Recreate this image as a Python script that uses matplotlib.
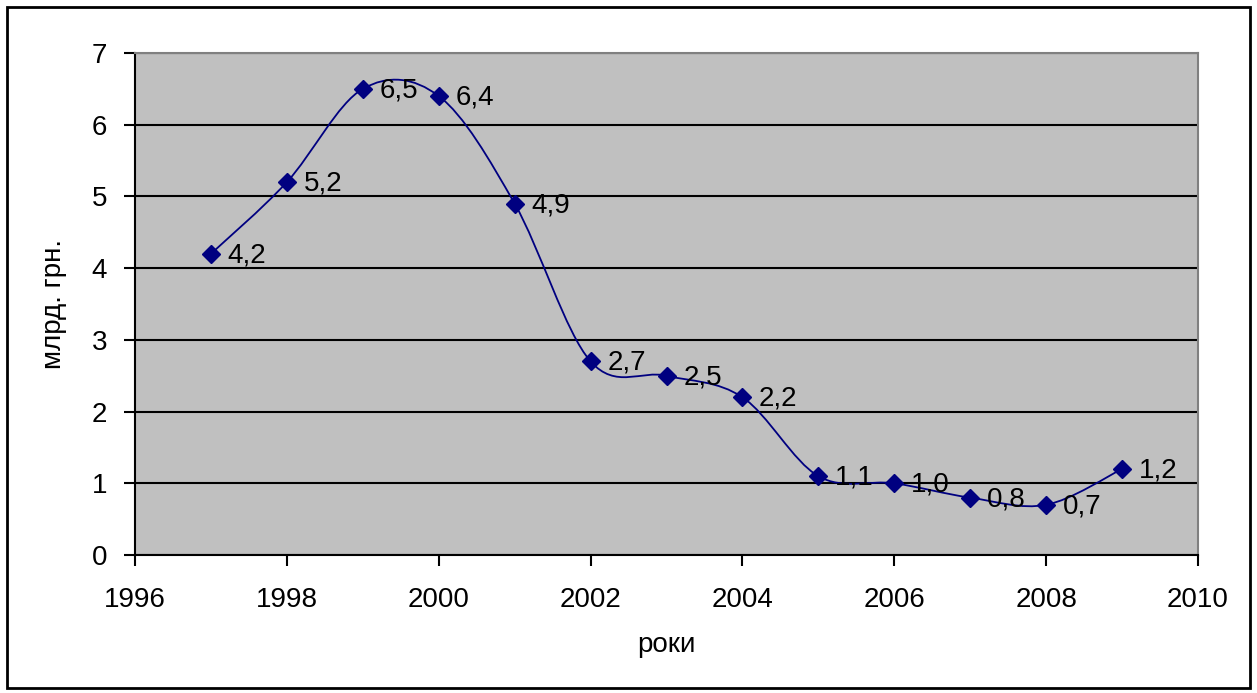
import numpy as np
import matplotlib.pyplot as plt
from matplotlib.path import Path
from matplotlib.patches import PathPatch, Rectangle

plt.rcParams['font.family'] = ['Liberation Sans', 'DejaVu Sans']

years = [1997, 1998, 1999, 2000, 2001, 2002, 2003, 2004, 2005, 2006, 2007, 2008, 2009]
values = [4.2, 5.2, 6.5, 6.4, 4.9, 2.7, 2.5, 2.2, 1.1, 1.0, 0.8, 0.7, 1.2]
labels = ['4,2', '5,2', '6,5', '6,4', '4,9', '2,7', '2,5', '2,2', '1,1', '1,0', '0,8', '0,7', '1,2']

navy = '#000080'
fs = 20

fig = plt.figure(figsize=(12.57, 6.93), dpi=100)
ax = fig.add_axes([0.1074, 0.1991, 0.8457, 0.7244])
ax.set_facecolor('#c0c0c0')

# smoothed line like Excel (bezier through the points)
pts = np.column_stack([years, values]).astype(float)
verts = [tuple(pts[0])]
codes = [Path.MOVETO]
n = len(pts)
for i in range(n - 1):
    p0 = pts[i - 1] if i > 0 else pts[i]
    p1 = pts[i]
    p2 = pts[i + 1]
    p3 = pts[i + 2] if i + 2 < n else pts[i + 1]
    c1 = p1 + (p2 - p0) / 6
    c2 = p2 - (p3 - p1) / 6
    verts += [tuple(c1), tuple(c2), tuple(p2)]
    codes += [Path.CURVE4] * 3
ax.add_patch(PathPatch(Path(verts, codes), facecolor='none', edgecolor=navy, lw=1.3, zorder=3))

ax.plot(years, values, ls='none', marker='D', ms=9, color=navy, zorder=4)

for x, y, s in zip(years, values, labels):
    ax.annotate(s, (x, y), xytext=(12, -1), textcoords='offset points',
                va='center', ha='left', fontsize=fs, zorder=5)

ax.set_xlim(1996, 2010)
ax.set_ylim(0, 7)
ax.set_xticks(range(1996, 2011, 2))
ax.set_yticks(range(0, 8))
ax.grid(axis='y', color='black', lw=1.5)
ax.set_axisbelow(True)
ax.tick_params(labelsize=fs, length=8, width=1.5, direction='out')
ax.tick_params(axis='x', pad=15)
ax.tick_params(axis='y', pad=12)

for s in ['left', 'bottom']:
    ax.spines[s].set_color('black')
    ax.spines[s].set_linewidth(1.5)
for s in ['top', 'right']:
    ax.spines[s].set_color('#808080')
    ax.spines[s].set_linewidth(1.5)

ax.set_ylabel('млрд. грн.', fontsize=fs, labelpad=18)
ax.set_xlabel('роки', fontsize=fs, labelpad=14)

fig.patches.append(Rectangle((7 / 1257, 5 / 693), 1243 / 1257, 681 / 693,
                             transform=fig.transFigure, fill=False,
                             edgecolor='black', lw=2))

fig.savefig('out.png', dpi=100)
